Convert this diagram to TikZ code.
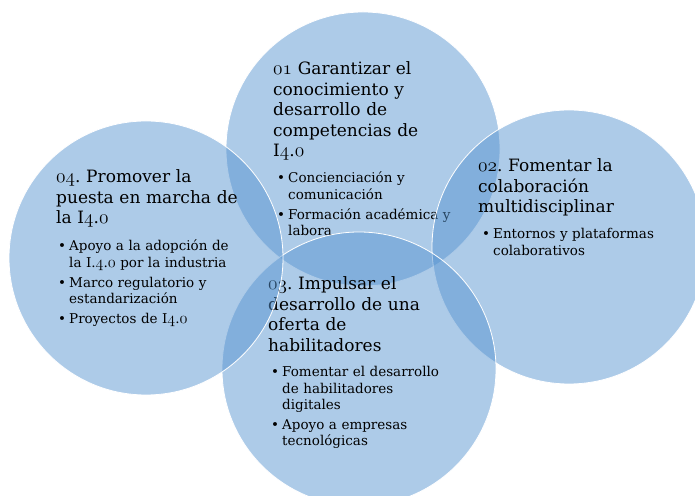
\documentclass[tikz,border=0pt]{standalone}
\usepackage{fontspec}
\setmainfont{DejaVu Serif}
\definecolor{vennblue}{RGB}{84,146,207}
\newcommand{\osn}[1]{\scalebox{1.12}{\usefont{OML}{cmm}{m}{it}#1}}
\newcommand{\bitem}[1]{\hangindent=11pt\hangafter=1\noindent\makebox[11pt][l]{\textbullet}#1\par}
\tikzset{
  venn/.style={circle, draw=white, line width=0.8pt, fill=vennblue, fill opacity=0.48,
    minimum size=274pt, inner sep=0pt},
  head/.style={anchor=base west, inner sep=0pt, text width=220pt, align=left,
    font=\fontsize{17}{20.5}\selectfont\frenchspacing},
  items/.style={anchor=base west, inner sep=0pt, text width=200pt, align=left,
    font=\fontsize{13.5}{16.2}\selectfont\frenchspacing,
    execute at begin node={\setlength{\parskip}{4pt}}},
}
\begin{document}
\begin{tikzpicture}[x=1pt,y=1pt]
\useasboundingbox (0,0) rectangle (695,495);
\clip (0,0) rectangle (695,495);

\node[venn] (c1) at (363,346) {};
\node[head] (h1) at (273,420) {\osn{01} Garantizar el\\ conocimiento y\\ desarrollo de\\ competencias de\\ I\osn{4}.\osn{0}};
\node[items] (l1) at (277,312) {\bitem{Concienciación y\newline comunicación}\bitem{Formación académica y\newline labora}};

\node[venn] (c2) at (569,248) {};
\node[head] (h2) at (478,323) {\osn{02}. Fomentar la\\ colaboración\\ multidisciplinar};
\node[items] (l2) at (482,256) {\bitem{Entornos y plataformas\newline colaborativos}};

\node[venn] (c3) at (359,126) {};
\node[head] (h3) at (268,205) {\osn{03}. Impulsar el\\ desarrollo de una\\ oferta de\\ habilitadores};
\node[items] (l3) at (271,118) {\bitem{Fomentar el desarrollo\newline de habilitadores\newline digitales}\bitem{Apoyo a empresas\newline tecnológicas}};

\node[venn] (c4) at (146,237) {};
\node[head] (h4) at (56,312) {\osn{04}. Promover la\\ puesta en marcha de\\ la I\osn{4}.\osn{0}};
\node[items] (l4) at (58,244) {\bitem{Apoyo a la adopción de\newline la I.\osn{4}.\osn{0} por la industria}\bitem{Marco regulatorio y\newline estandarización}\bitem{Proyectos de I\osn{4}.\osn{0}}};
\end{tikzpicture}
\end{document}
